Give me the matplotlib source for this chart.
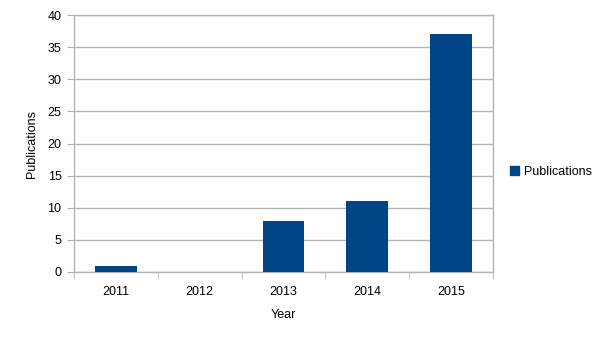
import matplotlib
matplotlib.use("Agg")
import matplotlib.pyplot as plt
from matplotlib.patches import Patch

years = ["2011", "2012", "2013", "2014", "2015"]
publications = [1, 0, 8, 11, 37]
yticks = [0, 5, 10, 15, 20, 25, 30, 35, 40]

plt.rcParams['font.family'] = ['Liberation Sans', 'DejaVu Sans']
blue = "#004586"
grid = "#b3b3b3"

fig = plt.figure(figsize=(6.05, 3.4), dpi=100)
ax = fig.add_axes([74/605, 68/340, (493-74)/605, (272-15)/340])
x = list(range(len(years)))
ax.bar(x, publications, width=0.5, color=blue, zorder=3)
ax.set_xlim(-0.5, len(years) - 0.5)
ax.set_ylim(0, 40)
ax.set_yticks(yticks)
ax.set_yticklabels([str(v) for v in yticks], fontsize=9)
ax.set_xticks(x)
ax.set_xticklabels(years, fontsize=9)
ax.tick_params(axis='x', length=0, pad=10)
ax.set_xticks([i - 0.5 for i in range(len(years) + 1)], minor=True)
ax.tick_params(axis='x', which='minor', length=5, color=grid, direction='out')
ax.tick_params(axis='y', length=5, color=grid, pad=4)
ax.yaxis.grid(True, color=grid, linewidth=1, zorder=0)
for s in ax.spines.values():
    s.set_color(grid)
    s.set_linewidth(1)
ax.set_xlabel("Year", fontsize=9, labelpad=8)
ax.set_ylabel("Publications", fontsize=9, labelpad=7)

handles = [Patch(color=blue, label="Publications")]
fig.legend(handles=handles, loc='center left', bbox_to_anchor=(499/605, 1 - 172/340),
           frameon=False, fontsize=9, handlelength=0.7, handleheight=0.7, handletextpad=0.4)

fig.savefig("out.png", dpi=100)
